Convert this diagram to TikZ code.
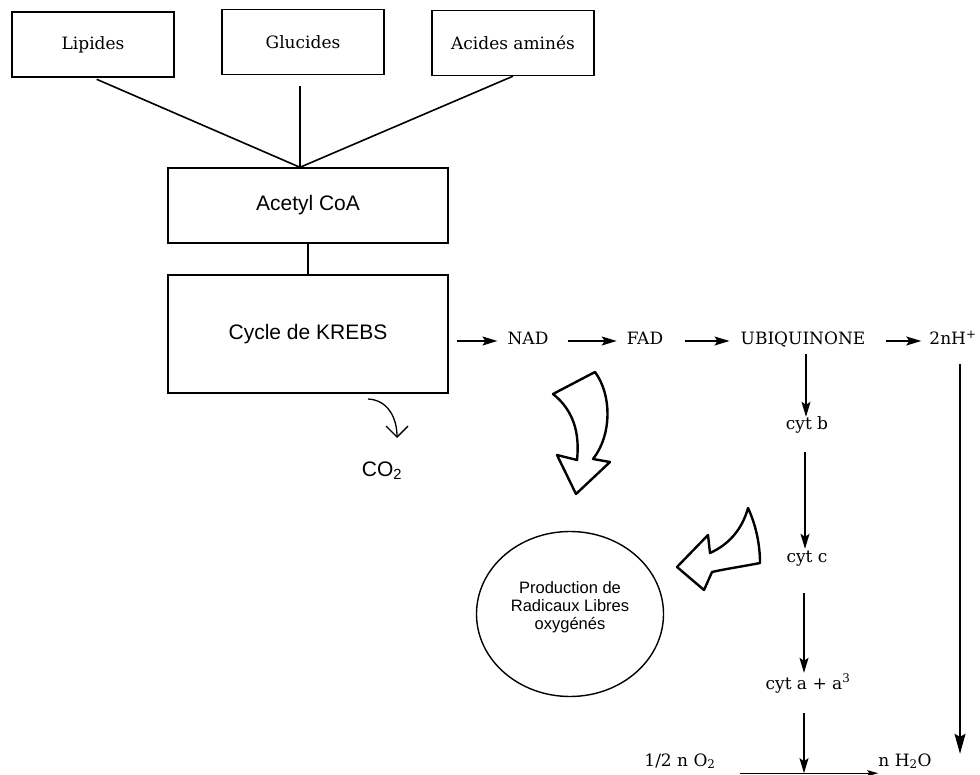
\documentclass[tikz,border=0pt]{standalone}
\usepackage{fontspec}
\setmainfont{DejaVu Serif}
\setsansfont{Liberation Sans}
\usetikzlibrary{arrows.meta,shapes.geometric}
\begin{document}
\begin{tikzpicture}[x=1pt,y=-1pt,
  srf/.style={font=\fontsize{17}{20}\selectfont, inner sep=0pt, text height=12pt, text depth=4pt},
  topbox/.style={draw, line width=1.4pt, minimum width=162pt, minimum height=65pt, inner sep=0pt, font=\fontsize{17}{20}\selectfont},
  bigbox/.style={draw, line width=1.4pt, minimum width=280pt, inner sep=0pt, font=\sffamily\fontsize{21}{25}\selectfont},
  conn/.style={line width=1.6pt},
  arr/.style={line width=1.3pt, -{Stealth[length=15pt,width=9pt,inset=3pt]}},
  longarr/.style={line width=1.4pt, -{Stealth[length=20pt,width=11pt,inset=3pt]}},
  fat/.style={line width=2.4pt, line join=round}
]
\fill[white] (0,0) rectangle (980,775);
\useasboundingbox (0,0) rectangle (980,775);

% top boxes
\node[topbox] (lip) at (93,44.5) {Lipides};
\node[topbox] (glu) at (303,42) {Glucides};
\node[topbox] (aci) at (513,43) {Acides aminés};

% Acetyl CoA and Krebs
\node[bigbox, minimum height=75pt] (acet) at (308,205.5) {Acetyl CoA};
\node[bigbox, minimum height=118pt] (krebs) at (308,334) {Cycle de KREBS};

\coordinate (j) at ([xshift=-8pt]acet.north);
\draw[conn, shorten <=4pt] (lip.south) -- (j);
\draw[conn, shorten <=11pt] (glu.south -| j) -- (j);
\draw[conn] (aci.south) -- (j);
\draw[line width=1.2pt] (acet.south) -- (krebs.north);

% CO2
\node[font=\sffamily\fontsize{21}{24}\selectfont, inner sep=0pt] (co2) at (382,471) {CO\textsubscript{2}};
\coordinate (co2a) at (368,399);
\coordinate (co2b) at (397,438);
\draw[line width=1.3pt, -{Straight Barb[length=11pt,width=22pt]}] (co2a) .. controls (388,400) and (397,418) .. (co2b);

% main row
\node[srf] (nad) at (528,341) {NAD};
\node[srf] (fad) at (645,341) {FAD};
\node[srf] (ubi) at (803,341) {UBIQUINONE};
\node[srf] (hn) at (953,341) {2nH\textsuperscript{+}};

\draw[arr, shorten <=8pt, shorten >=10pt] (krebs.east |- nad.west) -- (nad.west);
\draw[arr, shorten <=19pt, shorten >=10pt] (nad.east) -- (fad.west);
\draw[arr, shorten <=22pt, shorten >=11pt] (fad.east) -- (ubi.west);
\draw[arr, shorten <=20pt, shorten >=8pt] (ubi.east) -- (hn.west);

% cytochromes
\node[srf] (cytb) at (807,426) {cyt b};
\node[srf] (cytc) at (807,558) {cyt c};
\node[srf] (cyta) at (808,685) {cyt a + a\textsuperscript{3}};
\node[srf] (o2) at (680,762) {1/2 n O\textsubscript{2}};
\node[srf] (h2o) at (905,762) {n H\textsubscript{2}O};

\draw[arr, shorten <=5pt, shorten >=1pt] ([xshift=-1pt]cytb.north |- ubi.south) -- ([xshift=-1pt]cytb.north);
\draw[arr, shorten <=18pt, shorten >=1pt] ([xshift=-2pt]cytb.south) -- ([xshift=-2pt]cytc.north);
\draw[arr, shorten <=27pt, shorten >=4pt] ([xshift=-3pt]cytc.south) -- ([xshift=-4pt]cyta.north);

\coordinate (lineL) at ([shift={(24,3)}]o2.south east);
\draw[line width=1.3pt, -{Stealth[length=11pt,width=6pt,inset=2pt]}] (lineL) -- (lineL -| h2o.west);
\draw[arr, shorten <=20pt] ([xshift=-4pt]cyta.south) -- ([xshift=-4pt]cyta.south |- lineL);

\draw[longarr, shorten <=15pt] ([xshift=7pt]hn.south) -- ([xshift=7pt]hn.south |- h2o.north);

% ellipse
\node[draw, ellipse, line width=1.4pt, minimum width=187pt, minimum height=165pt, inner sep=0pt,
      label={[align=center, yshift=7pt, font=\sffamily\fontsize{16.5}{18}\selectfont]center:{Production de\\Radicaux Libres\\oxygénés}}] (prod) at (570,614) {};

% big curved arrows
\draw[fat] (553,394) -- (595,372) .. controls (612,395) and (612,435) .. (593,459)
  -- (610,462) -- (576,494) -- (557,455) -- (577,460)
  .. controls (580,432) and (573,410) .. (553,394) -- cycle;

\draw[fat] (677,567) -- (708,535) -- (710,553) .. controls (728,545) and (742,530) .. (748,508)
  .. controls (756,525) and (760,545) .. (760,563)
  .. controls (745,566) and (725,569) .. (712,572) -- (704,590) -- cycle;
\end{tikzpicture}
\end{document}
